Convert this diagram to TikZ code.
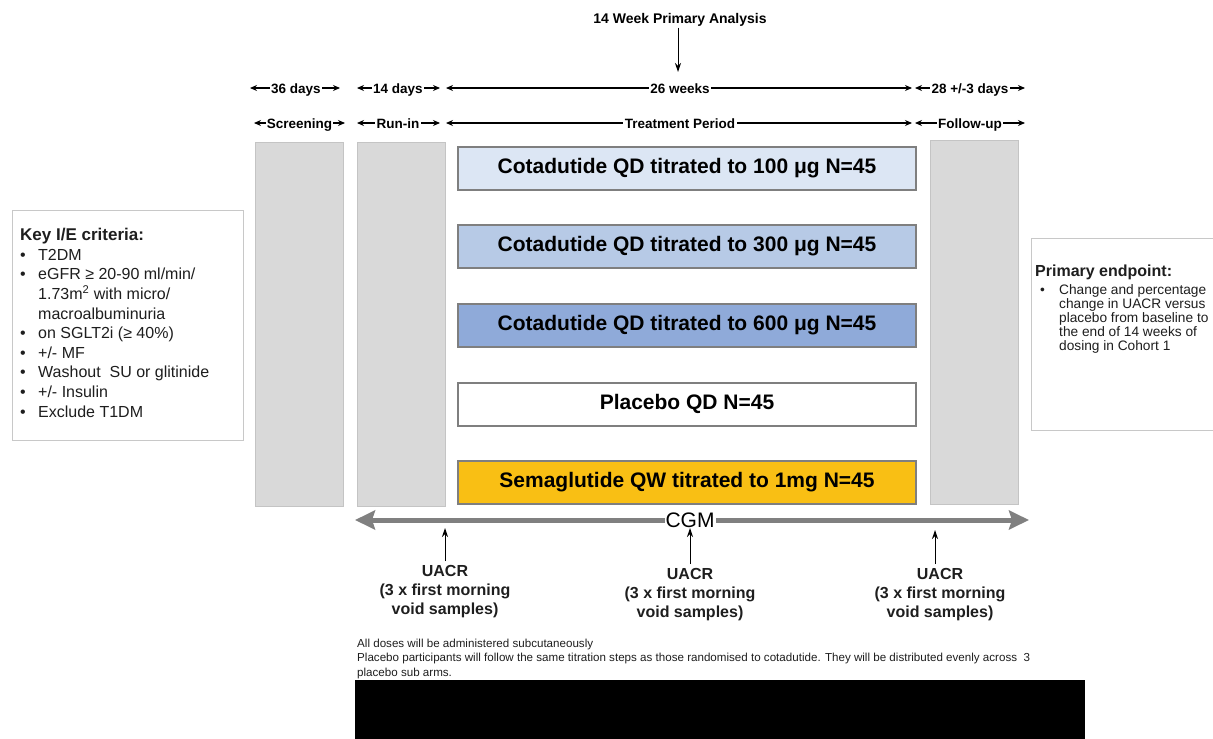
\documentclass[tikz,border=0pt]{standalone}
\usepackage{fontspec}
\setmainfont{Liberation Sans}
\usetikzlibrary{arrows.meta}
\definecolor{blockgray}{HTML}{D9D9D9}
\definecolor{blockedge}{HTML}{C4C4C4}
\definecolor{armedge}{HTML}{7F7F7F}
\definecolor{armA}{HTML}{DCE6F4}
\definecolor{armB}{HTML}{B7CAE6}
\definecolor{armC}{HTML}{8FAAD9}
\definecolor{armE}{HTML}{F9BF14}
\definecolor{cgmgray}{HTML}{808080}
\definecolor{boxedge}{HTML}{C8C8C8}
\definecolor{inktext}{HTML}{1E1E1E}
\begin{document}
\begin{tikzpicture}[x=1pt,y=-1pt,
  grayblock/.style={draw=blockedge, fill=blockgray, line width=1pt, minimum width=88pt, minimum height=364pt, inner sep=0pt},
  armbox/.style={draw=armedge, line width=2pt, minimum width=458pt, minimum height=43pt, inner sep=0pt,
    font=\fontsize{21}{24}\selectfont\bfseries, text height=15pt, text depth=4.5pt},
  spanline/.style={line width=1.1pt, {Stealth[length=7pt,width=6pt]}-{Stealth[length=7pt,width=6pt]}},
  spanlabel/.style={fill=white, inner sep=1.5pt, font=\fontsize{13.5}{15}\selectfont\bfseries, text height=10pt, text depth=0pt},
  upline/.style={line width=1pt, -{Stealth[length=9pt,width=6pt]}},
  infobox/.style={draw=boxedge, line width=1pt, fill=white, inner sep=0pt},
  uacr/.style={font=\fontsize{16}{19}\selectfont\bfseries, inner sep=0pt, anchor=base, text=inktext},
]
\useasboundingbox (0,0) rectangle (1213,739);

% title and arrow
\node[font=\fontsize{14}{16}\selectfont\bfseries, inner sep=1pt] (title) at (680,20) {14 Week Primary Analysis};
\coordinate (wk14) at (678,72);
\draw[upline] (title.south -| wk14) -- (wk14);

% row 1 spans
\coordinate (s1a) at (250,88); \coordinate (s1b) at (340,88);
\coordinate (s2a) at (357,88); \coordinate (s2b) at (440,88);
\coordinate (s3a) at (446,88); \coordinate (s3b) at (912,88);
\coordinate (s4a) at (915,88); \coordinate (s4b) at (1025,88);
\draw[spanline] (s1a) -- (s1b);
\draw[spanline] (s2a) -- (s2b);
\draw[spanline] (s3a) -- (s3b);
\draw[spanline] (s4a) -- (s4b);
\node[spanlabel] (l36) at (296,88) {36 days};
\node[spanlabel] (l14) at (398,88) {14 days};
\node[spanlabel] (l26) at (680,88) {26 weeks};
\node[spanlabel] (l28) at (970,88) {28 +/-3 days};

% row 2 spans
\coordinate (p1a) at (254,123); \coordinate (p1b) at (345,123);
\coordinate (p2a) at (357,123); \coordinate (p2b) at (440,123);
\coordinate (p3a) at (446,123); \coordinate (p3b) at (912,123);
\coordinate (p4a) at (915,123); \coordinate (p4b) at (1025,123);
\draw[spanline] (p1a) -- (p1b);
\draw[spanline] (p2a) -- (p2b);
\draw[spanline] (p3a) -- (p3b);
\draw[spanline] (p4a) -- (p4b);
\node[spanlabel, inner sep=0.5pt] (lscr) at (299.5,123) {Screening};
\node[spanlabel] (lrun) at (398,123) {Run-in};
\node[spanlabel] (ltrt) at (680,123) {Treatment Period};
\node[spanlabel] (lfol) at (970,123) {Follow-up};

% gray period blocks
\node[grayblock] (screen) at (299,324.5) {};
\node[grayblock] (runin) at (401,324) {};
\node[grayblock] (follow) at (974,322) {};

% treatment arms
\node[armbox, fill=armA] (arm1) at (687,168.5) {Cotadutide QD titrated to 100 μg N=45};
\node[armbox, fill=armB] (arm2) at (687,246.5) {Cotadutide QD titrated to 300 μg N=45};
\node[armbox, fill=armC] (arm3) at (687,325) {Cotadutide QD titrated to 600 μg N=45};
\node[armbox, fill=white] (arm4) at (687,404) {Placebo QD N=45};
\node[armbox, fill=armE] (arm5) at (687,482) {Semaglutide QW titrated to 1mg N=45};

% key I/E criteria box
\node[infobox, minimum width=231pt, minimum height=230pt] (keybox) at (127.5,325) {};
\node[anchor=base west, inner sep=0pt, text=inktext, font=\fontsize{17}{20}\selectfont\bfseries] (keyhead) at (20,240) {Key I/E criteria:};
\node[anchor=base west, inner sep=0pt, text=inktext, font=\fontsize{16}{19.6}\selectfont] (keylist) at (20,260)
{\begin{tabular}[t]{@{}p{18pt}@{}l@{}}
\textbullet & T2DM\\
\textbullet & eGFR ≥ 20-90 ml/min/\\
 & 1.73m\textsuperscript{2} with micro/\\
 & macroalbuminuria\\
\textbullet & on SGLT2i (≥ 40\%)\\
\textbullet & +/- MF\\
\textbullet & Washout\ \ SU or glitinide\\
\textbullet & +/- Insulin\\
\textbullet & Exclude T1DM
\end{tabular}};

% primary endpoint box
\node[infobox, minimum width=185pt, minimum height=192pt] (endbox) at (1123.5,334) {};
\node[anchor=base west, inner sep=0pt, text=inktext, font=\fontsize{16}{19}\selectfont\bfseries] (endhead) at (1035,276) {Primary endpoint:};
\node[anchor=base west, inner sep=0pt, text=inktext, font=\fontsize{13.7}{14.2}\selectfont] (endlist) at (1040,294)
{\begin{tabular}[t]{@{}p{19pt}@{}l@{}}
\textbullet & Change and percentage\\
 & change in UACR versus\\
 & placebo from baseline to\\
 & the end of 14 weeks of\\
 & dosing in Cohort 1
\end{tabular}};

% CGM arrow
\coordinate (cgmL) at (355,520);
\coordinate (cgmR) at (1029,520);
\draw[cgmgray, line width=5pt, {Stealth[length=20pt,width=19pt,inset=3pt]}-{Stealth[length=20pt,width=19pt,inset=3pt]}] (cgmL) -- (cgmR);
\node[fill=white, inner sep=1pt, font=\fontsize{21}{24}\selectfont, text height=15pt, text depth=0pt] (cgm) at (690,520) {CGM};

% UACR sampling
\node[uacr] (u1) at (445,576) {\begin{tabular}[t]{@{}c@{}}UACR\\(3 x first morning\\void samples)\end{tabular}};
\node[uacr] (u2) at (690,579) {\begin{tabular}[t]{@{}c@{}}UACR\\(3 x first morning\\void samples)\end{tabular}};
\node[uacr] (u3) at (940,579) {\begin{tabular}[t]{@{}c@{}}UACR\\(3 x first morning\\void samples)\end{tabular}};
\coordinate (ua1) at (445,528);
\coordinate (ua2) at (690,528);
\coordinate (ua3) at (935,530);
\draw[upline] (445,561) -- (ua1);
\draw[upline] (690,564) -- (ua2);
\draw[upline] (935,564) -- (ua3);

% notes
\node[anchor=base west, inner sep=0pt, text=inktext, font=\fontsize{11.6}{14.5}\selectfont] (notes) at (357,647)
{\begin{tabular}[t]{@{}l@{}}All doses will be administered subcutaneously\\
Placebo participants will follow the same titration steps as those randomised to cotadutide. They will be distributed evenly across\ \ 3\\
placebo sub arms.\end{tabular}};

% redaction block
\node[fill=black, minimum width=730pt, minimum height=60pt, inner sep=0pt] (redact) at (720,710) {};
\end{tikzpicture}
\end{document}
